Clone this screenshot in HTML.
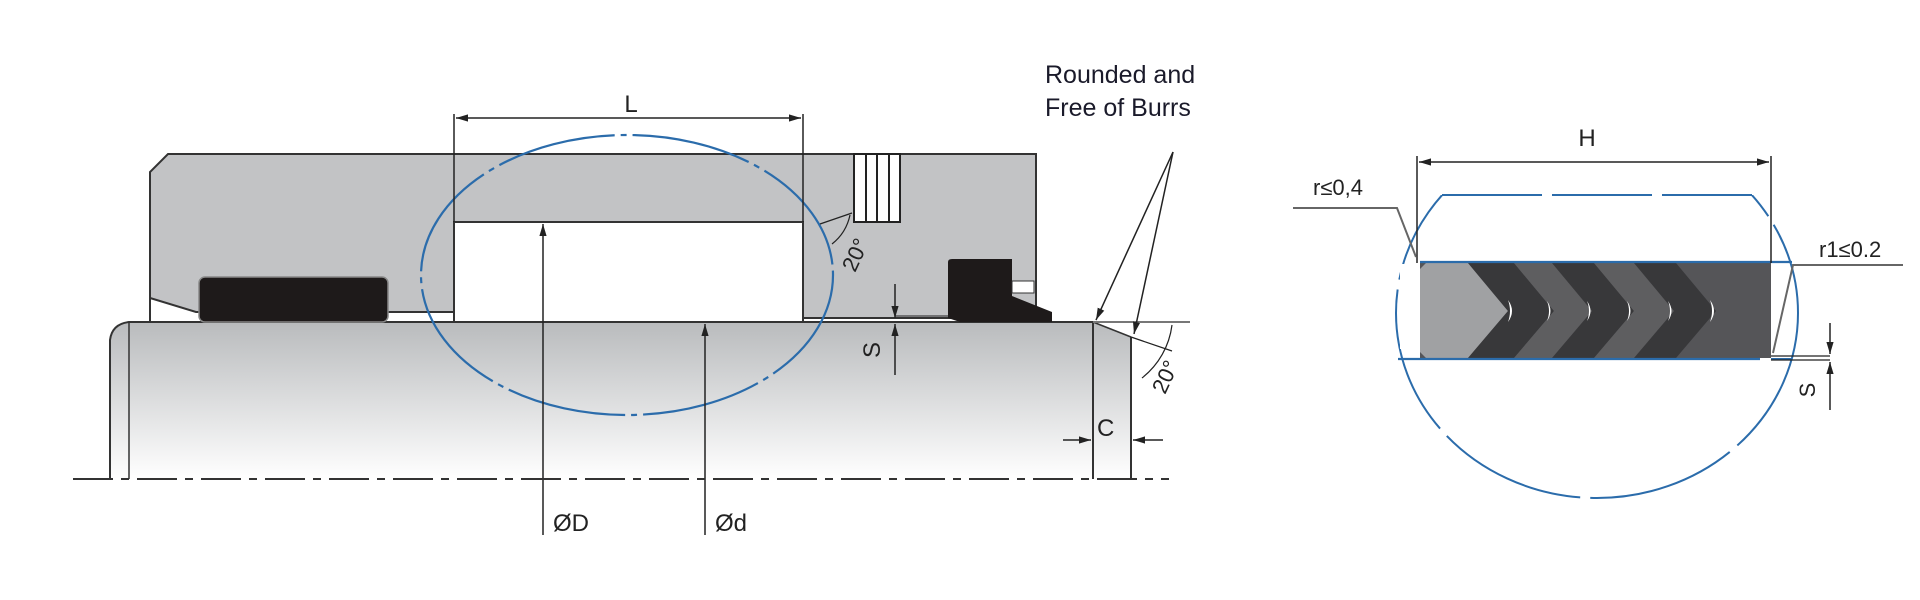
<!DOCTYPE html>
<html><head><meta charset="utf-8"><style>
html,body{margin:0;padding:0;background:#fff;}
svg{display:block;font-family:"Liberation Sans",sans-serif;}
</style></head><body>
<svg width="1920" height="600" viewBox="0 0 1920 600" xmlns="http://www.w3.org/2000/svg">
<defs>
<linearGradient id="rod" x1="0" y1="0" x2="0" y2="1">
<stop offset="0" stop-color="#b9bbbd"/><stop offset="1" stop-color="#ffffff"/>
</linearGradient>
<marker id="ar" viewBox="0 0 10 10" refX="10" refY="5" markerWidth="8" markerHeight="8" orient="auto-start-reverse"><path d="M0,2 L10,5 L0,8 z" fill="#222"/></marker>
<clipPath id="cc"><rect x="1300" y="195" width="600" height="400"/></clipPath>
</defs>

<!-- rod -->
<path d="M129,322 L1093,322 L1131,337 L1131,479 L110,479 L110,340 Q112,324 129,322 Z" fill="url(#rod)" stroke="none"/>
<path d="M110,479 L110,340 Q112,324 129,322 L1190,322" fill="none" stroke="#333" stroke-width="2"/>
<line x1="129" y1="322" x2="129" y2="479" stroke="#333" stroke-width="1.5"/>
<line x1="1093" y1="322" x2="1093" y2="479" stroke="#333" stroke-width="2"/>
<line x1="1131" y1="337" x2="1131" y2="479" stroke="#333" stroke-width="2"/>
<line x1="1093" y1="322" x2="1131" y2="337" stroke="#333" stroke-width="1.5"/>
<line x1="1093" y1="322" x2="1190" y2="322" stroke="#777" stroke-width="2"/>

<!-- housing -->
<path d="M168,154 L1036,154 L1036,318 L803,318 L803,222 L454,222 L454,312 L196,312 L150,298 L150,172 Z" fill="#c2c3c5" stroke="#333" stroke-width="2"/>
<line x1="803" y1="222" x2="803" y2="322" stroke="#333" stroke-width="2"/>
<line x1="454" y1="222" x2="454" y2="322" stroke="#333" stroke-width="2"/>
<line x1="150" y1="298" x2="150" y2="322" stroke="#333" stroke-width="2"/>
<!-- back-up ring -->
<rect x="854" y="154" width="46" height="68" fill="#fff" stroke="#222" stroke-width="2"/>
<line x1="866" y1="154" x2="866" y2="222" stroke="#222" stroke-width="2"/>
<line x1="877" y1="154" x2="877" y2="222" stroke="#222" stroke-width="2"/>
<line x1="889" y1="154" x2="889" y2="222" stroke="#222" stroke-width="2"/>
<!-- o-ring -->
<rect x="199" y="277" width="189" height="45" rx="6" fill="#1e1a1a" stroke="#888" stroke-width="1.5"/>
<!-- wiper -->
<path d="M948,262 Q948,259 952,259 L1012,259 L1012,296 L1052,312 L1052,322 L960,322 L948,318 Z" fill="#1e1a1a"/>
<rect x="1012" y="281" width="22" height="12" fill="#fff" stroke="#333" stroke-width="1"/>

<!-- blue ellipse -->
<ellipse cx="627" cy="275" rx="206" ry="140" fill="none" stroke="#2b6cab" stroke-width="2.2" stroke-dasharray="120 6 6 6"/>

<!-- L dimension -->
<line x1="454" y1="222" x2="454" y2="114" stroke="#222" stroke-width="1.5"/>
<line x1="803" y1="222" x2="803" y2="114" stroke="#222" stroke-width="1.5"/>
<line x1="456" y1="118" x2="801" y2="118" stroke="#222" stroke-width="1.5" marker-start="url(#ar)" marker-end="url(#ar)"/>
<text x="631" y="112" font-size="24" text-anchor="middle" fill="#222">L</text>

<!-- ØD / Ød -->
<line x1="543" y1="535" x2="543" y2="224" stroke="#222" stroke-width="1.5" marker-end="url(#ar)"/>
<line x1="705" y1="535" x2="705" y2="324" stroke="#222" stroke-width="1.5" marker-end="url(#ar)"/>
<text x="553" y="531" font-size="24" fill="#222">ØD</text>
<text x="715" y="531" font-size="24" fill="#222">Ød</text>

<!-- centerline -->
<line x1="73" y1="479" x2="1169" y2="479" stroke="#333" stroke-width="2" stroke-dasharray="40 8 8 8"/>

<!-- S left -->
<line x1="895" y1="284" x2="895" y2="318" stroke="#222" stroke-width="1.5" marker-end="url(#ar)"/>
<line x1="895" y1="375" x2="895" y2="324" stroke="#222" stroke-width="1.5" marker-end="url(#ar)"/>
<line x1="895" y1="316" x2="950" y2="316" stroke="#222" stroke-width="1"/>
<text transform="translate(880,350) rotate(-90)" font-size="24" text-anchor="middle" fill="#222">S</text>

<!-- 20° top -->
<path d="M820,224 L852,213" stroke="#222" stroke-width="1.2" fill="none"/>
<path d="M850,215 A50,50 0 0 1 832,244" stroke="#222" stroke-width="1.2" fill="none"/>
<text transform="translate(862,258) rotate(-65)" font-size="22" text-anchor="middle" fill="#222">20°</text>

<!-- leaders -->
<line x1="1173" y1="152" x2="1096" y2="320" stroke="#222" stroke-width="1.5" marker-end="url(#ar)"/>
<line x1="1173" y1="152" x2="1134" y2="334" stroke="#222" stroke-width="1.5" marker-end="url(#ar)"/>
<text x="1045" y="83" font-size="25" fill="#1a1a2a">Rounded and</text>
<text x="1045" y="116" font-size="25" fill="#1a1a2a">Free of Burrs</text>

<!-- 20° right -->
<line x1="1131" y1="337" x2="1172" y2="351" stroke="#222" stroke-width="1.2"/>
<path d="M1172,325 A80,80 0 0 1 1142,378" stroke="#222" stroke-width="1.2" fill="none"/>
<text transform="translate(1172,380) rotate(-65)" font-size="22" text-anchor="middle" fill="#222">20°</text>

<!-- C -->
<line x1="1063" y1="440" x2="1091" y2="440" stroke="#222" stroke-width="1.5" marker-end="url(#ar)"/>
<line x1="1163" y1="440" x2="1133" y2="440" stroke="#222" stroke-width="1.5" marker-end="url(#ar)"/>
<text x="1097" y="436" font-size="24" fill="#222">C</text>

<!-- RIGHT DIAGRAM -->
<g clip-path="url(#cc)">
<ellipse cx="1597" cy="313" rx="201" ry="185" fill="none" stroke="#2b6cab" stroke-width="2" stroke-dasharray="150 10"/>
</g>
<line x1="1442" y1="195" x2="1752" y2="195" stroke="#2b6cab" stroke-width="2" stroke-dasharray="100 10"/>
<rect x="1400" y="264" width="19" height="85" fill="#fff"/>

<!-- seal -->
<rect x="1420" y="263" width="351" height="95" fill="#555558"/>
<polygon points="1426,263 1468,263 1508,311 1468,358 1426,358 1420,352 1420,269" fill="#a0a1a3"/>
<polygon points="1468,263 1514,263 1554,311 1514,358 1468,358 1508,311" fill="#38383a"/>
<polygon points="1514,263 1552,263 1592,311 1552,358 1514,358 1554,311" fill="#5e5e60"/>
<polygon points="1552,263 1594,263 1634,311 1594,358 1552,358 1592,311" fill="#38383a"/>
<polygon points="1594,263 1634,263 1674,311 1634,358 1594,358 1634,311" fill="#5e5e60"/>
<polygon points="1634,263 1676,263 1716,311 1676,358 1634,358 1674,311" fill="#38383a"/>
<g fill="#fff">
<path d="M1508,300 Q1516,311 1508,322 Q1512,311 1508,300 Z"/>
<path d="M1547,301 Q1554,311 1547,321 Q1551,311 1547,301 Z"/>
<path d="M1587,301 Q1594,311 1587,321 Q1591,311 1587,301 Z"/>
<path d="M1627,301 Q1634,311 1627,321 Q1631,311 1627,301 Z"/>
<path d="M1668,301 Q1675,311 1668,321 Q1672,311 1668,301 Z"/>
<path d="M1710,300 Q1718,311 1710,322 Q1714,311 1710,300 Z"/>
</g>
<line x1="1420" y1="262" x2="1792" y2="262" stroke="#2b6cab" stroke-width="2.2"/>
<line x1="1398" y1="359" x2="1760" y2="359" stroke="#2b6cab" stroke-width="2.2"/>
<line x1="1771" y1="359" x2="1792" y2="359" stroke="#2b6cab" stroke-width="2"/>

<!-- H -->
<line x1="1417" y1="156" x2="1417" y2="263" stroke="#222" stroke-width="1.5"/>
<line x1="1771" y1="156" x2="1771" y2="263" stroke="#222" stroke-width="1.5"/>
<line x1="1419" y1="162" x2="1769" y2="162" stroke="#222" stroke-width="1.5" marker-start="url(#ar)" marker-end="url(#ar)"/>
<text x="1587" y="146" font-size="24" text-anchor="middle" fill="#222">H</text>

<!-- r≤0.4 -->
<text x="1313" y="195" font-size="22" fill="#222">r≤0,4</text>
<polyline points="1293,208 1397,208 1416,257" fill="none" stroke="#666" stroke-width="2"/>
<!-- r1≤0.2 -->
<text x="1819" y="257" font-size="22" fill="#222">r1≤0.2</text>
<polyline points="1903,265 1793,265 1773,353" fill="none" stroke="#666" stroke-width="2"/>

<!-- S right -->
<line x1="1830" y1="323" x2="1830" y2="354" stroke="#222" stroke-width="1.5" marker-end="url(#ar)"/>
<line x1="1830" y1="410" x2="1830" y2="362" stroke="#222" stroke-width="1.5" marker-end="url(#ar)"/>
<line x1="1771" y1="356" x2="1830" y2="356" stroke="#222" stroke-width="1.2"/>
<line x1="1771" y1="360" x2="1830" y2="360" stroke="#222" stroke-width="1.2"/>
<text transform="translate(1815,390) rotate(-90)" font-size="22" text-anchor="middle" fill="#222">S</text>
</svg>
</body></html>
